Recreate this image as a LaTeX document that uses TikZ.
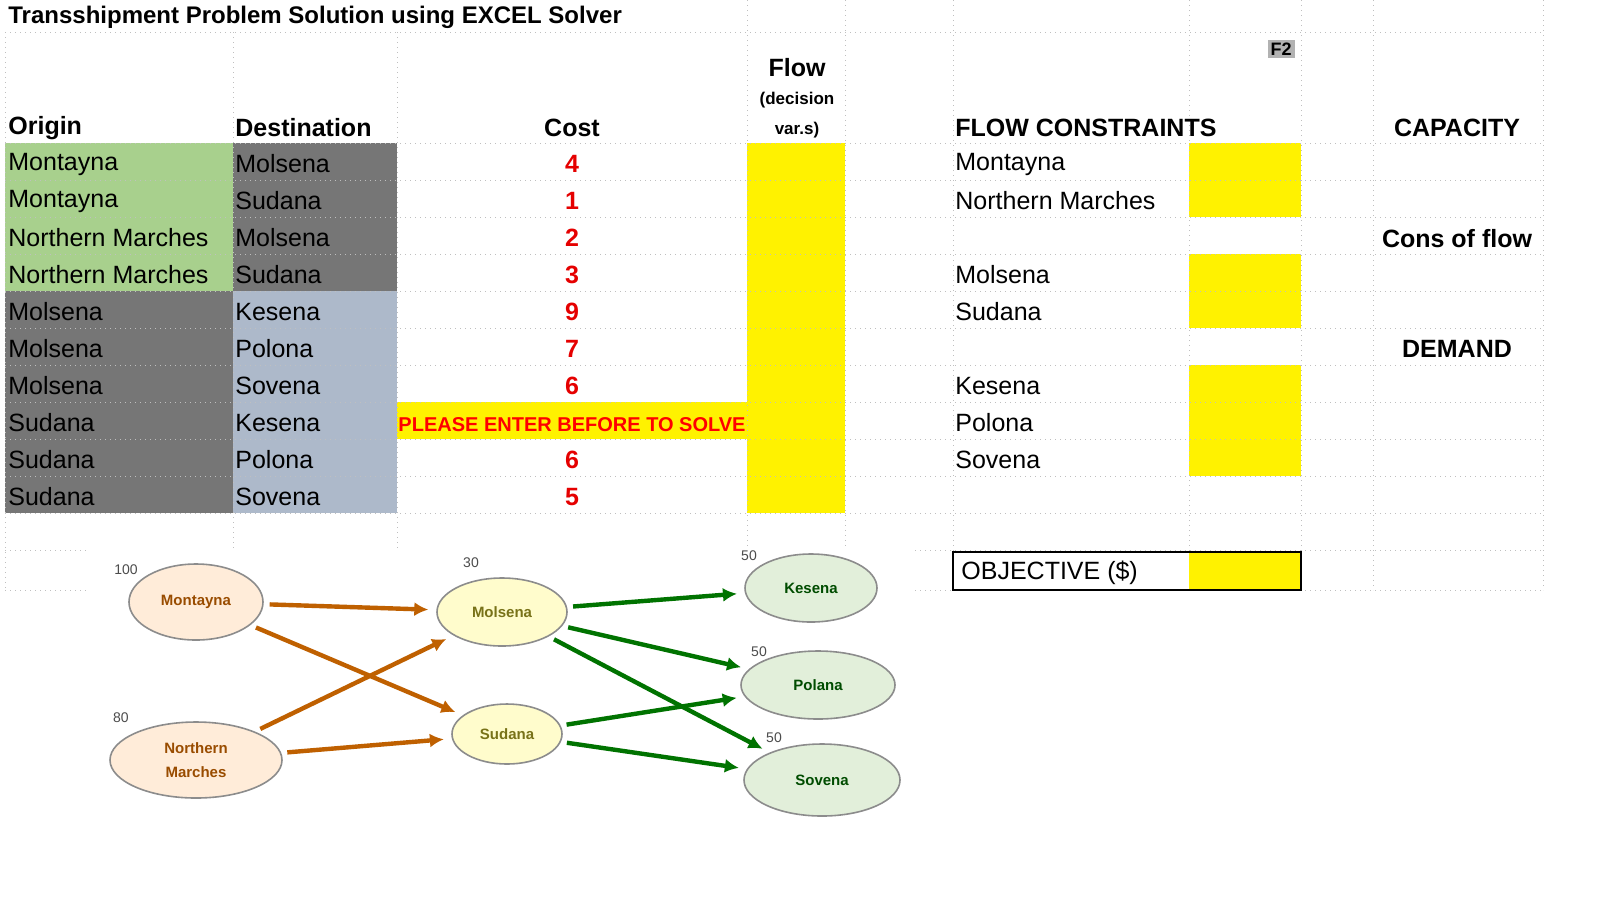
\documentclass[tikz,border=0pt]{standalone}
\usepackage{fontspec}
\setmainfont{Liberation Sans}
\usetikzlibrary{shapes.geometric,arrows.meta}
\begin{document}
\begin{tikzpicture}[x=0.5pt,y=-0.5pt,
 grid/.style={draw=black!25,dotted,line width=0.5pt},
 cell/.style={anchor=west,inner sep=0pt,font=\fontsize{12.5}{14}\selectfont},
 hdr/.style={inner sep=0pt,font=\fontsize{12.5}{14}\selectfont\bfseries},
 cost/.style={inner sep=0pt,text=red!90!black,font=\fontsize{12.5}{14}\selectfont\bfseries},
 src/.style={ellipse,inner sep=0pt,draw=black!45,line width=0.8pt,fill=orange!15,text=orange!60!black,font=\fontsize{7.5}{9}\selectfont\bfseries,align=center},
 mid/.style={ellipse,inner sep=0pt,draw=black!45,line width=0.8pt,fill=yellow!20,text=olive!80!black,font=\fontsize{7.5}{9}\selectfont\bfseries},
 dst/.style={ellipse,inner sep=0pt,draw=black!45,line width=0.8pt,fill=lg,text=green!30!black,font=\fontsize{7.5}{9}\selectfont\bfseries},
 num/.style={inner sep=0pt,text=black!70,font=\fontsize{7}{9}\selectfont},
 oarr/.style={-{Latex[length=7pt,width=7pt]},draw=orange!75!black,line width=2.2pt,shorten >=4pt,shorten <=3pt},
 garr/.style={-{Latex[length=7pt,width=7pt]},draw=green!45!black,line width=2.2pt,shorten >=4pt,shorten <=3pt}]
\useasboundingbox (0,0) rectangle (1600,902);
\definecolor{og}{RGB}{168,208,141}
\definecolor{dg}{RGB}{118,118,118}
\definecolor{lb}{RGB}{173,185,202}
\definecolor{lg}{RGB}{226,239,218}
% fills
\fill[og] (5,143) rectangle (233,291);
\fill[dg] (5,291) rectangle (233,513);
\fill[dg] (233,143) rectangle (397,291);
\fill[lb] (233,291) rectangle (397,513);
\fill[yellow] (747,143) rectangle (845,513);
\fill[yellow] (397,402) rectangle (747,439);
\fill[yellow] (1189,143) rectangle (1301,217);
\fill[yellow] (1189,254) rectangle (1301,328);
\fill[yellow] (1189,365) rectangle (1301,476);
% grid
\foreach \x in {747,845,953,1189,1301,1373,1543} \draw[grid] (\x,0) -- (\x,590);
\foreach \x in {5,233,397} \draw[grid] (\x,32) -- (\x,590);
\foreach \y in {32,143,180,217,254,291,328,365,402,439,476,513,550,590} \draw[grid] (5,\y) -- (1543,\y);
% title and headers
\node[anchor=west,inner sep=0pt,font=\fontsize{12}{14}\selectfont\bfseries] (title) at (8,17) {Transshipment Problem Solution using EXCEL Solver};
\node[hdr,anchor=west] (ho) at (8,128) {Origin};
\node[hdr,anchor=west] (hd) at (235,128) {Destination};
\node[hdr] (hc) at (572,128) {Cost};
\node[hdr] (hf) at (797,68) {Flow};
\node[inner sep=0pt,font=\fontsize{8.5}{10}\selectfont\bfseries] (hf2) at (797,100) {(decision};
\node[inner sep=0pt,font=\fontsize{8.5}{10}\selectfont\bfseries] (hf3) at (797,130) {var.s)};
\node[hdr,anchor=west] (hfc) at (955,128) {FLOW CONSTRAINTS};
\node[hdr] (hcap) at (1457,128) {CAPACITY};
\node[hdr] (hcons) at (1457,239) {Cons of flow};
\node[hdr] (hdem) at (1457,349) {DEMAND};
\node[fill=black!30,inner sep=1.5pt,font=\fontsize{9}{10}\selectfont\bfseries] (f2) at (1281,49) {F2};
% table rows
\foreach [count=\i from 0] \o/\d/\c in {Montayna/Molsena/4,Montayna/Sudana/1,Northern Marches/Molsena/2,Northern Marches/Sudana/3,Molsena/Kesena/9,Molsena/Polona/7,Molsena/Sovena/6,Sudana/Kesena/,Sudana/Polona/6,Sudana/Sovena/5}{
 \node[cell] (o\i) at (8,164+37*\i) {\o};
 \node[cell] (d\i) at (235,164+37*\i) {\d};
 \node[cost] (c\i) at (572,164+37*\i) {\c};
}
\node[inner sep=0pt,text=red,font=\fontsize{10}{12}\selectfont\bfseries] (pl) at (572,425) {PLEASE ENTER BEFORE TO SOLVE};
\foreach \t/\y in {Montayna/164,Northern Marches/201,Molsena/275,Sudana/312,Kesena/386,Polona/423,Sovena/460}
 \node[cell] at (955,\y) {\t};
% objective
\fill[yellow] (1189,552) rectangle (1301,590);
\draw[line width=0.8pt] (953,552) rectangle (1301,590);
\node[cell] (obj) at (961,573) {OBJECTIVE (\$)};
% network image
\fill[white] (90,548) rectangle (915,830);
\node[src,minimum width=67pt,minimum height=38pt] (mon) at (196,602) {Montayna};
\node[src,minimum width=86pt,minimum height=38pt] (nm) at (196,760) {Northern\\[3pt]Marches};
\node[mid,minimum width=65pt,minimum height=34pt] (mol) at (502,612) {Molsena};
\node[mid,minimum width=55pt,minimum height=30pt] (sud) at (507,734) {Sudana};
\node[dst,minimum width=66pt,minimum height=34pt] (kes) at (811,588) {Kesena};
\node[dst,minimum width=77pt,minimum height=34pt] (pol) at (818,685) {Polana};
\node[dst,minimum width=78pt,minimum height=36pt] (sov) at (822,780) {Sovena};
\node[num] at (126,570) {100};
\node[num] at (121,718) {80};
\node[num] at (471,563) {30};
\node[num] at (749,556) {50};
\node[num] at (759,652) {50};
\node[num] at (774,738) {50};
\draw[oarr] (mon) -- (mol);
\draw[oarr] (mon) -- (sud);
\draw[oarr] (nm) -- (mol);
\draw[oarr] (nm) -- (sud);
\draw[garr] (mol) -- (kes);
\draw[garr] (mol) -- (pol);
\draw[garr] (mol) -- (sov);
\draw[garr] (sud) -- (pol);
\draw[garr] (sud) -- (sov);
\end{tikzpicture}
\end{document}
